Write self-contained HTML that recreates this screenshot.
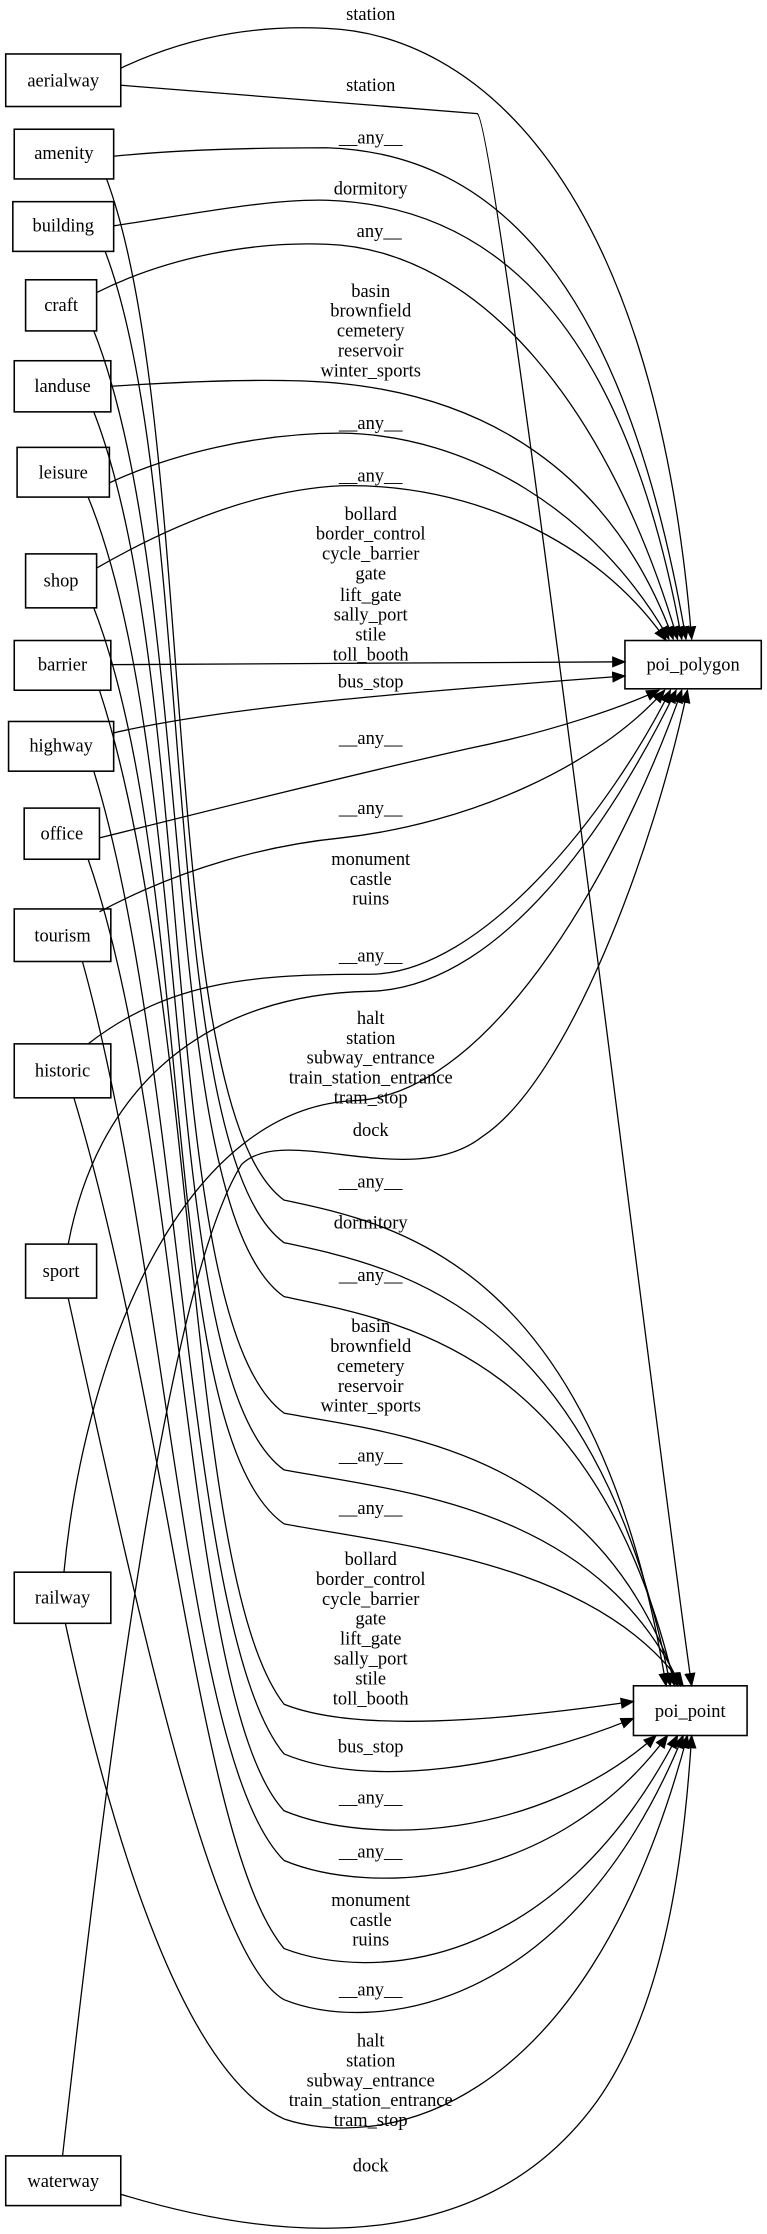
<!DOCTYPE html>
<html><head><meta charset="utf-8"><style>
html,body{margin:0;padding:0;background:#fff;}
svg{display:block;}
text{font-family:"Liberation Serif",serif;font-size:13px;fill:#000;text-anchor:middle;}
.n{fill:none;stroke:#000;stroke-width:1.1;}
.e{fill:none;stroke:#000;stroke-width:0.9;marker-end:url(#a);}
</style></head><body>
<svg width="767" height="2234" viewBox="0 0 540 1573" xmlns="http://www.w3.org/2000/svg">
<defs><marker id="a" markerUnits="userSpaceOnUse" markerWidth="10" markerHeight="8" refX="9" refY="4" orient="auto"><path d="M0,0 L10,4 L0,8 Z" fill="#000"/></marker></defs>
<!-- nodes -->
<rect class="n" x="4" y="38" width="81" height="37"/><text x="44.5" y="61">aerialway</text>
<rect class="n" x="10" y="91" width="70" height="35"/><text x="45" y="112">amenity</text>
<rect class="n" x="9" y="142" width="71" height="35"/><text x="44.5" y="163">building</text>
<rect class="n" x="18" y="197" width="50" height="36"/><text x="43" y="219">craft</text>
<rect class="n" x="10" y="254" width="68" height="36"/><text x="44" y="276">landuse</text>
<rect class="n" x="12" y="315" width="65" height="35"/><text x="44.5" y="337">leisure</text>
<rect class="n" x="18" y="390" width="50" height="38"/><text x="43" y="413">shop</text>
<rect class="n" x="10" y="451" width="68" height="35"/><text x="44" y="472">barrier</text>
<rect class="n" x="6" y="508" width="74" height="35"/><text x="43" y="529">highway</text>
<rect class="n" x="17" y="569" width="53" height="36"/><text x="43.5" y="591">office</text>
<rect class="n" x="10" y="640" width="68" height="37"/><text x="44" y="663">tourism</text>
<rect class="n" x="10" y="735" width="68" height="38"/><text x="44" y="758">historic</text>
<rect class="n" x="18" y="876" width="50" height="38"/><text x="43" y="899">sport</text>
<rect class="n" x="10" y="1107" width="68" height="36"/><text x="44" y="1129">railway</text>
<rect class="n" x="4" y="1518" width="81" height="35"/><text x="44.5" y="1540">waterway</text>
<rect class="n" x="440" y="451" width="96" height="34"/><text x="488" y="472">poi_polygon</text>
<rect class="n" x="446" y="1187" width="80" height="35"/><text x="486" y="1209">poi_point</text>

<!-- edges to poi_polygon -->
<path class="e" d="M85,48 C140,22 190,18 230,20 C330,24 460,120 487,450"/>
<text x="261" y="14">station</text>
<path class="e" d="M80,110 C130,105 190,104 230,104 C350,108 440,200 483,450"/>
<text x="261" y="101">__any__</text>
<path class="e" d="M80,159 C140,150 190,140 230,141 C350,145 440,230 480,450"/>
<text x="261" y="137">dormitory</text>
<path class="e" d="M68,206 C120,180 180,170 230,172 C340,176 430,290 477,450"/>
<text x="267" y="167">any__</text>
<path class="e" d="M78,272 C140,268 200,266 240,270 C340,280 430,330 474,450"/>
<text x="261" y="209">basin</text><text x="261" y="223">brownfield</text><text x="261" y="237">cemetery</text><text x="261" y="251">reservoir</text><text x="261" y="265">winter_sports</text>
<path class="e" d="M77,340 C120,320 180,305 240,305 C330,306 420,360 471,450"/>
<text x="261" y="302">__any__</text>
<path class="e" d="M68,400 C120,370 180,345 240,342 C330,340 420,380 469,451"/>
<text x="261" y="339">__any__</text>
<path class="e" d="M78,468 L440,466"/>
<text x="261" y="366">bollard</text><text x="261" y="380">border_control</text><text x="261" y="394">cycle_barrier</text><text x="261" y="408">gate</text><text x="261" y="423">lift_gate</text><text x="261" y="437">sally_port</text><text x="261" y="451">stile</text><text x="261" y="465">toll_booth</text>
<path class="e" d="M80,516 C150,500 250,490 440,476"/>
<text x="261" y="484">bus_stop</text>
<path class="e" d="M70,590 C150,570 250,545 330,527 C390,515 440,497 464,486"/>
<text x="261" y="524">__any__</text>
<path class="e" d="M70,642 C130,610 190,595 240,590 C330,580 420,540 468,486"/>
<text x="261" y="573">__any__</text>
<path class="e" d="M62,735 C120,690 180,686 260,686 C340,686 430,570 472,486"/>
<text x="261" y="609">monument</text><text x="261" y="623">castle</text><text x="261" y="637">ruins</text>
<path class="e" d="M48,876 C70,760 150,700 260,698 C360,696 440,560 476,486"/>
<text x="261" y="677">__any__</text>
<path class="e" d="M45,1107 C60,950 130,780 250,775 C350,770 440,600 480,486"/>
<text x="261" y="721">halt</text><text x="261" y="735">station</text><text x="261" y="749">subway_entrance</text><text x="261" y="763">train_station_entrance</text><text x="261" y="777">tram_stop</text>
<path class="e" d="M44,1518 C80,1200 120,900 170,820 C200,790 290,840 340,800 C400,760 460,600 484,486"/>
<text x="261" y="800">dock</text>

<!-- edges to poi_point -->
<path class="e" d="M85,60 L336,80 C350,85 460,1000 487,1187"/>
<text x="261" y="64">station</text>
<path class="e" d="M75,126 C140,300 110,780 200,845 C280,862 420,890 469,1187"/>
<text x="261" y="836">__any__</text>
<path class="e" d="M74,177 C140,350 110,810 200,875 C280,892 420,920 472,1187"/>
<text x="261" y="865">dormitory</text>
<path class="e" d="M66,233 C140,420 110,850 200,913 C280,930 420,950 475,1187"/>
<text x="261" y="902">__any__</text>
<path class="e" d="M66,290 C140,480 110,930 200,995 C280,1010 420,1020 477,1187"/>
<text x="261" y="938">basin</text><text x="261" y="952">brownfield</text><text x="261" y="966">cemetery</text><text x="261" y="980">reservoir</text><text x="261" y="994">winter_sports</text>
<path class="e" d="M62,350 C140,540 110,970 200,1035 C280,1050 420,1060 479,1187"/>
<text x="261" y="1029">__any__</text>
<path class="e" d="M66,428 C140,620 110,1010 200,1073 C280,1088 420,1100 481,1187"/>
<text x="261" y="1066">__any__</text>
<path class="e" d="M70,486 C140,700 130,1110 200,1200 C250,1220 350,1212 446,1198"/>
<text x="261" y="1102">bollard</text><text x="261" y="1116">border_control</text><text x="261" y="1130">cycle_barrier</text><text x="261" y="1144">gate</text><text x="261" y="1158">lift_gate</text><text x="261" y="1172">sally_port</text><text x="261" y="1186">stile</text><text x="261" y="1200">toll_booth</text>
<path class="e" d="M66,543 C130,750 130,1150 200,1235 C260,1260 360,1245 446,1210"/>
<text x="261" y="1234">bus_stop</text>
<path class="e" d="M62,605 C130,800 130,1200 200,1275 C260,1300 380,1295 462,1222"/>
<text x="261" y="1270">__any__</text>
<path class="e" d="M58,677 C120,900 130,1240 200,1310 C260,1335 390,1330 470,1222"/>
<text x="261" y="1308">__any__</text>
<path class="e" d="M52,773 C120,1000 140,1300 200,1372 C260,1395 390,1390 477,1222"/>
<text x="261" y="1342">monument</text><text x="261" y="1356">castle</text><text x="261" y="1370">ruins</text>
<path class="e" d="M48,914 C100,1150 150,1380 200,1408 C260,1432 400,1420 481,1222"/>
<text x="261" y="1405">__any__</text>
<path class="e" d="M46,1143 C80,1300 130,1460 200,1492 C260,1512 410,1500 484,1222"/>
<text x="261" y="1441">halt</text><text x="261" y="1455">station</text><text x="261" y="1469">subway_entrance</text><text x="261" y="1483">train_station_entrance</text><text x="261" y="1497">tram_stop</text>
<path class="e" d="M85,1545 C200,1580 340,1590 420,1480 C470,1410 482,1300 487,1222"/>
<text x="261" y="1529">dock</text>
</svg>
</body></html>
